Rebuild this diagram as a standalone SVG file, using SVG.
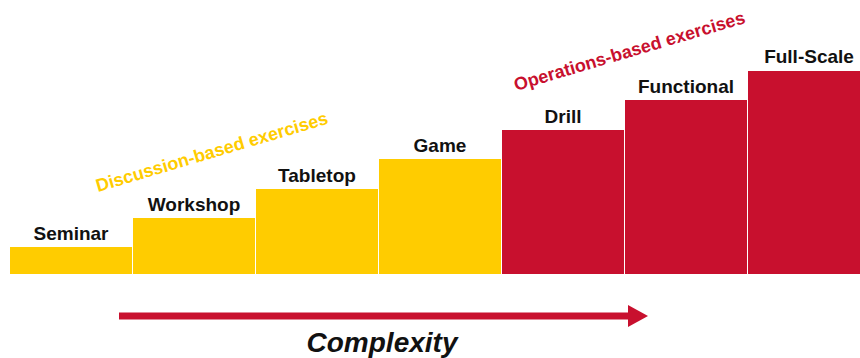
<svg xmlns="http://www.w3.org/2000/svg" width="860" height="358" viewBox="0 0 860 358">
<style>
.y{fill:#FFCC00}
.r{fill:#C8102E}
.lbl{font-family:"Liberation Sans",Arial,sans-serif;font-weight:bold;font-size:19px;fill:#111;text-anchor:middle}
.cat{font-family:"Liberation Sans",Arial,sans-serif;font-weight:bold;font-size:18px}
</style>
<defs>
<marker id="ah" markerUnits="userSpaceOnUse" markerWidth="20" markerHeight="22" refX="0" refY="11" orient="auto">
<path d="M0,0 L20,11 L0,22 Z" fill="#C8102E"/>
</marker>
</defs>
<rect width="860" height="358" fill="#fff"/>
<g id="seminar"><rect class="y" x="10" y="247" width="122" height="27"/><text class="lbl" x="71" y="240">Seminar</text></g>
<g id="workshop"><rect class="y" x="133" y="218" width="122" height="56"/><text class="lbl" x="194" y="211">Workshop</text></g>
<g id="tabletop"><rect class="y" x="256" y="189" width="122" height="85"/><text class="lbl" x="317" y="182">Tabletop</text></g>
<g id="game"><rect class="y" x="379" y="159" width="122" height="115"/><text class="lbl" x="440" y="152">Game</text></g>
<g id="drill"><rect class="r" x="502" y="130" width="122" height="144"/><text class="lbl" x="563" y="123">Drill</text></g>
<g id="functional"><rect class="r" x="625" y="100" width="122" height="174"/><text class="lbl" x="686" y="93">Functional</text></g>
<g id="fullscale"><rect class="r" x="748" y="71" width="122" height="203"/><text class="lbl" x="809" y="63">Full-Scale</text></g>
<g id="discussion"><text class="cat" fill="#FFCC00" transform="translate(98,192) rotate(-16.5)">Discussion-based exercises</text></g>
<g id="operations"><text class="cat" fill="#C8102E" transform="translate(516,91) rotate(-16.5)">Operations-based exercises</text></g>
<g id="connectors">
<line x1="119" y1="316" x2="628" y2="316" stroke="#C8102E" stroke-width="7" marker-end="url(#ah)"/>
</g>
<text x="382" y="352" font-family="'Liberation Sans',Arial,sans-serif" font-weight="bold" font-style="italic" font-size="28" fill="#111" text-anchor="middle">Complexity</text>
</svg>
